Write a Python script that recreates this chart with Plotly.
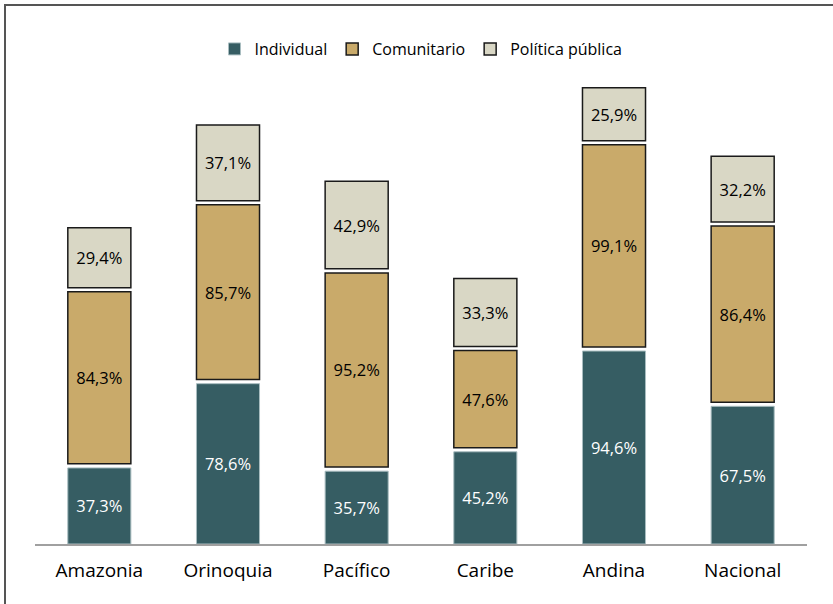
import plotly.graph_objects as go

categories = ["Amazonia", "Orinoquia", "Pacífico", "Caribe", "Andina", "Nacional"]
individual = [37.3, 78.6, 35.7, 45.2, 94.6, 67.5]
comunitario = [84.3, 85.7, 95.2, 47.6, 99.1, 86.4]
politica = [29.4, 37.1, 42.9, 33.3, 25.9, 32.2]

GAP = 2.0  # visual gap between stacked segments, in data units

def fmt(v):
    return f"{v:.1f}%".replace(".", ",")

base_ind = [0 for _ in individual]
base_com = [a + GAP for a in individual]
base_pol = [a + b + 2 * GAP for a, b in zip(individual, comunitario)]

FONT = "'Open Sans', sans-serif"
LBL = 16.5

fig = go.Figure()
fig.add_trace(go.Bar(
    x=categories, y=individual, base=base_ind, name="Individual",
    marker=dict(color="#365D63", line=dict(color="#A9BDC0", width=1)),
    text=[fmt(v) for v in individual], textposition="inside",
    insidetextanchor="middle", textfont=dict(color="white", size=LBL, family=FONT),
    width=0.49,
))
fig.add_trace(go.Bar(
    x=categories, y=comunitario, base=base_com, name="Comunitario",
    marker=dict(color="#C9AA6A", line=dict(color="#1A1A1A", width=1.5)),
    text=[fmt(v) for v in comunitario], textposition="inside",
    insidetextanchor="middle", textfont=dict(color="black", size=LBL, family=FONT),
    width=0.49,
))
fig.add_trace(go.Bar(
    x=categories, y=politica, base=base_pol, name="Política pública",
    marker=dict(color="#D9D7C5", line=dict(color="#1A1A1A", width=1.5)),
    text=[fmt(v) for v in politica], textposition="inside",
    insidetextanchor="middle", textfont=dict(color="black", size=LBL, family=FONT),
    width=0.49,
))

fig.update_layout(
    width=833, height=604,
    barmode="overlay",
    paper_bgcolor="white", plot_bgcolor="white",
    margin=dict(l=35, r=26, t=70, b=60),
    font=dict(family=FONT, color="black"),
    showlegend=True,
    legend=dict(orientation="h", x=0.5, xanchor="center", y=1.0 + (70 - 49) / 474.0,
                yanchor="middle", font=dict(size=16, family=FONT),
                traceorder="normal", itemwidth=30, bgcolor="rgba(0,0,0,0)"),
    uniformtext=dict(minsize=LBL, mode="show"),
    hovermode=False,
)
fig.update_xaxes(showline=True, linecolor="#A0A0A0", linewidth=2, ticks="",
                 ticklabelstandoff=8,
                 tickfont=dict(size=19, family=FONT, color="black"),
                 showgrid=False, zeroline=False)
fig.update_yaxes(range=[0, 474 / 2.04], visible=False, showgrid=False, zeroline=False)

# outer frame (left and top edges visible)
fig.add_shape(type="rect", xref="paper", yref="paper",
              x0=(5 - 35) / 772.0, x1=(845 - 35) / 772.0,
              y0=(544 - 620) / 474.0, y1=(544 - 5) / 474.0,
              line=dict(color="#555555", width=2), fillcolor="rgba(0,0,0,0)", layer="below")

fig.write_html("out.html", config={"displayModeBar": False},
               post_script="document.body.style.margin='0';document.body.style.overflow='hidden';")
